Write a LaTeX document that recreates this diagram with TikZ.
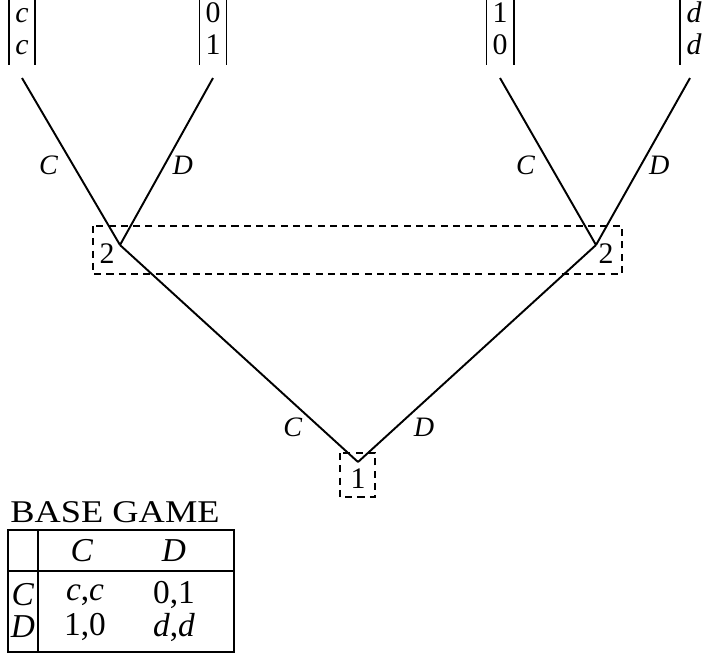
\documentclass[tikz,border=0pt]{standalone}
\usepackage{fontspec}
\setmainfont{Liberation Serif}
\usetikzlibrary{positioning}
\setlength{\tabcolsep}{3.5pt}
\setlength{\arrayrulewidth}{1pt}

\begin{document}
\begin{tikzpicture}[
  x=0.02cm, y=-0.02cm,
  move/.style={line width=1.1pt},
  infoset/.style={dash pattern=on 4pt off 3pt, line width=0.9pt},
  lbl/.style={font=\fontsize{16}{19}\selectfont\itshape, inner sep=0pt},
  player/.style={font=\fontsize{17}{20}\selectfont, inner sep=0pt},
  payoff/.style={font=\fontsize{17}{18.5}\selectfont, inner sep=0pt},
  cell/.style={font=\fontsize{19}{22}\selectfont, inner sep=0pt},
  grid/.style={line width=1pt}
]
\useasboundingbox (0,0) rectangle (706,654);

\coordinate (root) at (358,462);
\coordinate (l2) at (120,245);
\coordinate (r2) at (596,245);
\coordinate (ll) at (22,78);
\coordinate (lr) at (213,78);
\coordinate (rl) at (500,78);
\coordinate (rr) at (690,78);

\node[payoff, above=0.26cm of ll] (pCC) {\begin{tabular}{|c|}\textit{c}\\\textit{c}\end{tabular}};
\node[payoff, above=0.26cm of lr] (pCD) {\begin{tabular}{|c|}0\\1\end{tabular}};
\node[payoff, above=0.26cm of rl] (pDC) {\begin{tabular}{|c|}1\\0\end{tabular}};
\node[payoff, above right=0.26cm and -0.2cm of rr] (pDD) {\begin{tabular}{|c}\textit{d}\\\textit{d}\end{tabular}};

\draw[move] (root) -- (l2) node[lbl, pos=0.22, below left=2pt] {C};
\draw[move] (root) -- (r2) node[lbl, pos=0.22, below right=2pt] {D};
\draw[move] (l2) -- (ll) node[lbl, pos=0.48, left=8pt] {C};
\draw[move] (l2) -- (lr) node[lbl, pos=0.48, right=4pt] {D};
\draw[move] (r2) -- (rl) node[lbl, pos=0.48, left=8pt] {C};
\draw[move] (r2) -- (rr) node[lbl, pos=0.48, right=4pt] {D};

\node[player] (n1) at (358,479) {1};
\node[player] (n2l) at (107,254) {2};
\node[player] (n2r) at (606,254) {2};
\draw[infoset] (340,453) rectangle (375,497);
\draw[infoset] (93,226) rectangle (622,274);

\node[cell, font=\fontsize{18}{21}\selectfont, xscale=1.15] (title) at (115,512) {BASE GAME};
\draw[grid] (8,530) rectangle (234,652);
\draw[grid] (38,530) -- (38,652);
\draw[grid] (8,571) -- (234,571);
\node[cell] (hC) at (82,551) {\textit{C}};
\node[cell] (hD) at (174,551) {\textit{D}};
\node[cell] (rC) at (23,595) {\textit{C}};
\node[cell] (rD) at (23,627) {\textit{D}};
\node[cell] (cc) at (85,595) {\textit{c},\textit{c}};
\node[cell] (cd) at (174,595) {0,1};
\node[cell] (dc) at (85,627) {1,0};
\node[cell] (dd) at (174,627) {\textit{d},\textit{d}};
\end{tikzpicture}
\end{document}
